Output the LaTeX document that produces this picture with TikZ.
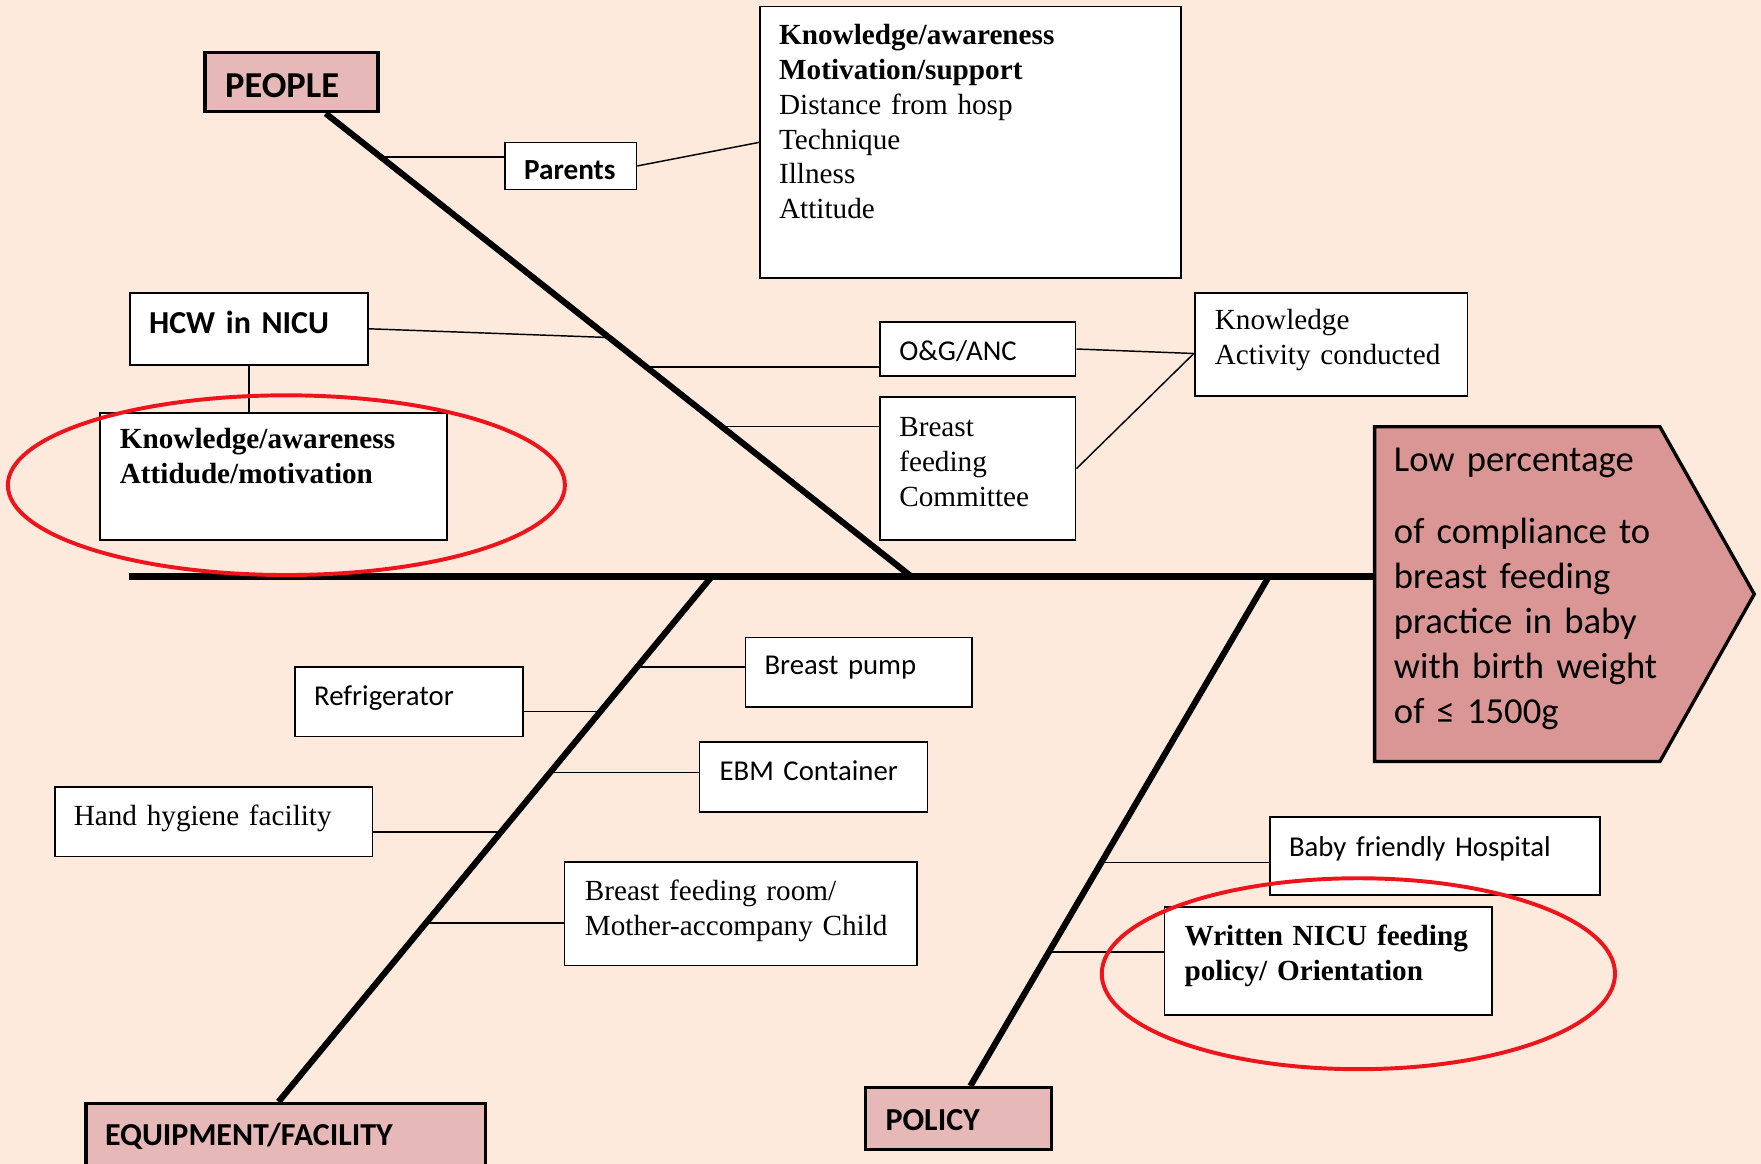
\documentclass[tikz,border=0pt]{standalone}
\usepackage{fontspec}
\setmainfont{Liberation Serif}
\newfontfamily\carl{Carlito}
\usetikzlibrary{calc}
\definecolor{bgc}{RGB}{253,234,221}
\definecolor{catc}{RGB}{230,185,184}
\definecolor{headc}{RGB}{217,150,148}
\definecolor{ringc}{RGB}{237,20,28}
\tikzset{
  bx/.style={draw=black, fill=white, line width=1.5pt, anchor=north west, inner ysep=0pt, inner xsep=17pt, align=left},
  catbox/.style={bx, fill=catc, line width=3pt, font=\carl\bfseries\fontsize{28.5}{34}\selectfont},
  serif/.style={font=\fontsize{26}{31}\selectfont},
  serifb/.style={font=\bfseries\fontsize{26}{31}\selectfont},
  sans/.style={font=\carl\fontsize{25.6}{31}\selectfont},
  sansb/.style={font=\carl\bfseries\fontsize{26}{31}\selectfont},
  bone/.style={line width=5.5pt},
  spine/.style={line width=6.5pt},
  twig/.style={line width=1.3pt},
  ring/.style={draw=ringc, line width=3.5pt}
}
\begin{document}
\begin{tikzpicture}[x=1pt,y=-1pt]
\fill[bgc] (0,0) rectangle (1568,1036);
\useasboundingbox (0,0) rectangle (1568,1036);

% category boxes
\node[catbox, inner xsep=18pt, text width=118pt, text height=40pt, text depth=13pt, font=\carl\bfseries\fontsize{32.5}{38}\selectfont] (people) at (181,45) {PEOPLE};
\node[catbox, text width=322pt, text height=37pt, text depth=18pt] (equip) at (75,981) {EQUIPMENT/FACILITY};
\node[catbox, inner xsep=18pt, text width=130pt, text height=38pt, text depth=17pt] (policy) at (769,967) {POLICY};

% head text node (shape drawn below)
\node[anchor=north west, inner xsep=17pt, inner ysep=0pt, text width=320pt, align=left, text height=40pt, font=\carl\fontsize{32.6}{40}\selectfont] (head) at (1224,380) {\phantom{L}};

% spine and bones
\coordinate (tail) at (115,513);
\coordinate (jp) at (811,513);
\coordinate (je) at (634,513);
\coordinate (jq) at (1130,513);
\coordinate (pt) at ($(people.south west)+(109,0)$);
\coordinate (et) at ($(equip.north west)+(173,0)$);
\coordinate (qt) at ($(policy.north west)+(95,0)$);
\draw[spine] (tail) -- (tail -| head.west);
\draw[bone] (pt) -- (jp);
\draw[bone] (je) -- (et);
\draw[bone] (jq) -- (qt);

% boxes
\node[bx, sansb, text width=83pt, text height=33pt, text depth=9pt] (parents) at (449,126) {Parents};
\node[bx, serif, text width=341pt, text height=34pt, text depth=208pt] (parentf) at (676,5) {\textbf{Knowledge/awareness}\\\textbf{Motivation/support}\\Distance from hosp\\Technique\\Illness\\Attitude};
\node[bx, sansb, text width=178pt, text height=36pt, text depth=28pt, font=\carl\bfseries\fontsize{28.5}{34}\selectfont] (hcw) at (115,260) {HCW in NICU};
\node[bx, serifb, inner xsep=18pt, text width=273pt, text height=32pt, text depth=81pt] (ka) at (88,367) {Knowledge/awareness\\Attidude/motivation};
\node[bx, sans, text width=140pt, text height=34pt, text depth=14pt] (og) at (783,286) {O\&G/ANC};
\node[bx, serif, text width=140pt, text height=35pt, text depth=92pt] (bfc) at (783,353) {Breast\\feeding\\Committee};
\node[bx, serif, inner xsep=18pt, text width=207pt, text height=33pt, text depth=59pt] (kac) at (1063,260) {Knowledge\\Activity conducted};
\node[bx, sans, text width=168pt, text height=33pt, text depth=29pt] (pump) at (663,567) {Breast pump};
\node[bx, sans, text width=169pt, text height=34pt, text depth=28pt] (fridge) at (262,593) {Refrigerator};
\node[bx, sans, inner xsep=18pt, text width=167pt, text height=34pt, text depth=28pt] (ebm) at (622,660) {EBM Container};
\node[bx, serif, text width=249pt, text height=34pt, text depth=28pt] (hand) at (48,700) {Hand hygiene facility};
\node[bx, serif, inner xsep=18pt, text width=278pt, text height=34pt, text depth=58pt] (room) at (502,767) {Breast feeding room/\\Mother-accompany Child};
\node[bx, sans, text width=260pt, text height=35pt, text depth=34pt] (baby) at (1130,727) {Baby friendly Hospital};
\node[bx, serifb, inner xsep=18pt, text width=256pt, text height=34pt, text depth=62pt] (written) at (1036,807) {Written NICU feeding\\policy/ Orientation};

% bone attachment points
\coordinate (b1) at ($(pt)!0.0988!(jp)$);
\coordinate (b2) at ($(pt)!0.4843!(jp)$);
\coordinate (b3) at ($(pt)!0.5494!(jp)$);
\coordinate (b4) at ($(pt)!0.6771!(jp)$);
\coordinate (b5) at ($(je)!0.1709!(et)$);
\coordinate (b6) at ($(je)!0.2564!(et)$);
\coordinate (b7) at ($(je)!0.3718!(et)$);
\coordinate (b8) at ($(je)!0.4850!(et)$);
\coordinate (b9) at ($(je)!0.6581!(et)$);
\coordinate (b10) at ($(jq)!0.5595!(qt)$);
\coordinate (b11) at ($(jq)!0.7357!(qt)$);

\coordinate (c1) at ([yshift=8pt]parents.west);
\coordinate (c3) at ([yshift=-16pt]og.west);
\coordinate (c4) at ([yshift=37.5pt]bfc.west);
\coordinate (c5) at ([yshift=5pt]pump.west);
\coordinate (c6) at ([yshift=-9pt]fridge.east);
\coordinate (c7) at ([yshift=4pt]ebm.west);
\coordinate (c8) at ([yshift=-9pt]hand.east);
\coordinate (c9) at ([yshift=-8pt]room.west);
\coordinate (c10) at ([yshift=-5.5pt]baby.west);
\coordinate (c11) at ([yshift=8pt]written.west);
\coordinate (kacc) at ([yshift=-8pt]kac.west);

\draw[twig] (c1) -- (c1 -| b1);
\draw[twig] (hcw.east) -- (b2);
\draw[twig] (c3) -- (c3 -| b3);
\draw[twig] (c4) -- (c4 -| b4);
\draw[twig] (c5) -- (c5 -| b5);
\draw[twig] (c6) -- (c6 -| b6);
\draw[twig] (c7) -- (c7 -| b7);
\draw[twig] (c8) -- (c8 -| b8);
\draw[twig] (c9) -- (c9 -| b9);
\draw[twig] (c10) -- (c10 -| b10);
\draw[twig] (c11) -- (c11 -| b11);
\draw[twig] (parents.east) -- (parentf.west);
\draw[twig] (og.east) -- (kacc);
\draw[twig] (bfc.east) -- (kacc);
\draw[twig] (hcw.south) -- (hcw.south |- ka.north);

% head shape
\draw[fill=headc, line width=3pt, line join=miter] (1224,380) -- (1478,380) -- (1562,529) -- (1478,678) -- (1224,678) -- cycle;
\node[anchor=north west, inner xsep=17pt, inner ysep=0pt, text width=320pt, align=left, text height=40pt, font=\carl\fontsize{32.6}{40}\selectfont] (headtext) at (head.north west) {Low percentage\\[24pt]of compliance to\\breast feeding\\practice in baby\\with birth weight\\of~≤~1500g};

% red rings
\draw[ring] (255,432) ellipse [x radius=248pt, y radius=80pt];
\draw[ring] (1209.5,867) ellipse [x radius=228.5pt, y radius=85pt];
\end{tikzpicture}
\end{document}
